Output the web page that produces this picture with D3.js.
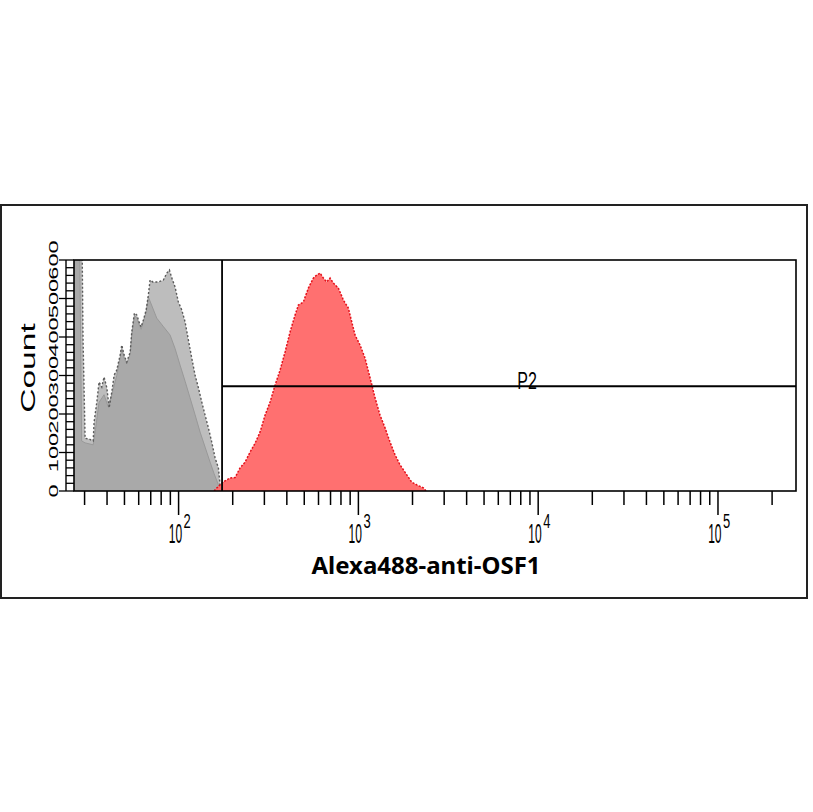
<!DOCTYPE html>
<html>
<head>
<meta charset="utf-8">
<script src="https://cdn.jsdelivr.net/npm/d3@7"></script>
<style>
  body { margin: 0; background: #fff; }
  svg { display: block; }
</style>
</head>
<body>
<div id="chart"></div>
<script>

// histogram data (fluorescence, count)
var grayOuterFl = [26.2, 28.9, 29.4, 30.2, 31.8, 33.5, 33.9, 35.1, 36.1, 37.4, 38.5, 39.9, 41.1, 42.5, 43.8, 45.3, 47.3, 48.3, 49.8, 51.5, 53.8, 54.9, 56.8, 58.6, 60.3, 61.9, 63.7, 66.0, 67.9, 69.4, 71.9, 74.0, 77.2, 82.3, 86.0, 88.9, 91.7, 95.6, 99.7, 104.2, 108.7, 113.4, 118.4, 123.5, 128.9, 134.6, 140.4, 146.5, 152.9, 159.6, 166.5, 170.1, 173.9, 176.5];
var grayOuterCount = [760, 760, 400, 137, 135, 130, 179, 231, 283, 270, 296, 268, 216, 257, 301, 314, 353, 379, 353, 335, 361, 413, 462, 457, 439, 426, 444, 470, 509, 548, 543, 543, 543, 548, 566, 574, 553, 530, 491, 470, 439, 392, 345, 301, 268, 231, 197, 164, 127, 86, 60, 16, 8, 0];

var grayInnerFl = [26.2, 28.0, 28.9, 30.2, 33.5, 34.5, 36.1, 38.5, 40.5, 42.5, 45.3, 47.3, 48.3, 49.8, 51.5, 53.8, 54.9, 56.8, 58.6, 60.3, 61.9, 63.7, 66.0, 67.9, 75.6, 82.0, 89.7, 95.6, 101.9, 108.7, 115.8, 123.5, 131.7, 140.4, 149.7, 157.6, 166.5, 172.5, 175];
var grayInnerCount = [760, 760, 130, 125, 120, 160, 230, 250, 220, 250, 300, 345, 370, 345, 330, 355, 405, 455, 450, 432, 420, 440, 465, 504, 449, 428, 405, 370, 327, 285, 242, 198, 153, 114, 75, 45, 16, 3, 0];

var redFl = [157.6, 163.1, 177.5, 193.4, 206.2, 219.8, 234.3, 249.8, 266.3, 283.9, 302.7, 322.7, 344.1, 366.8, 391.1, 416.9, 444.5, 463.7, 494.3, 527.0, 561.8, 586.8, 612.1, 638.6, 667.0, 695.8, 725.9, 773.9, 825.0, 879.5, 918.6, 958.3, 1021.6, 1089.1, 1161.1, 1237.8, 1319.6, 1406.7, 1499.7, 1598.7, 1704.4, 1857.7, 1980.5, 2111.2, 2298.0, 2348.5, 2380];
var redCount = [0, 8, 24, 34, 35, 60, 75, 101, 124, 153, 197, 231, 275, 314, 361, 413, 457, 483, 491, 527, 553, 561, 566, 553, 543, 553, 540, 527, 496, 475, 439, 405, 379, 345, 294, 242, 197, 164, 127, 94, 68, 42, 23, 16, 8, 3, 0];

// axis limits and gate
var xLimits = [26.2, 271600];
var yLimits = [0, 600];
var gateMin = 174.5;
var gateCount = 272;
var gateLabel = "P2";
var gateLabelFl = 8670;
var xTitle = "Alexa488-anti-OSF1";
var yTitle = "Count";

//Width and height
var w = 813;
var h = 812;
var plotLeft = 74;
var plotRight = 796;
var plotTop = 260;
var plotBottom = 491;

var svg = d3.select("#chart")
  .append("svg")
  .attr("width", w)
  .attr("height", h);

svg.append("rect")
  .attr("width", w)
  .attr("height", h)
  .attr("fill", "#fff");

//outer frame
svg.append("rect")
  .attr("x", 1)
  .attr("y", 205)
  .attr("width", 806)
  .attr("height", 393)
  .attr("fill", "none")
  .attr("stroke", "#222")
  .attr("stroke-width", 2);

var xScale = d3.scaleLog()
  .domain(xLimits)
  .range([plotLeft, plotRight]);

var yScale = d3.scaleLinear()
  .domain(yLimits)
  .range([plotBottom, plotTop]);

svg.append("clipPath")
  .attr("id", "plotclip")
  .append("rect")
  .attr("x", plotLeft)
  .attr("y", plotTop)
  .attr("width", plotRight - plotLeft)
  .attr("height", plotBottom - plotTop);

function pairs(xs, ys) {
  return xs.map(function(d, i) { return [d, ys[i]]; });
}

var area = d3.area()
  .x(function(d) { return xScale(d[0]); })
  .y0(yScale(0))
  .y1(function(d) { return yScale(d[1]); });

var line = d3.line()
  .x(function(d) { return xScale(d[0]); })
  .y(function(d) { return yScale(d[1]); });

var hist = svg.append("g").attr("clip-path", "url(#plotclip)");

var outer = pairs(grayOuterFl, grayOuterCount);
var inner = pairs(grayInnerFl, grayInnerCount);
var red = pairs(redFl, redCount);

hist.append("path").attr("d", area(outer)).attr("fill", "#bdbdbd");
hist.append("path").attr("d", area(inner)).attr("fill", "#a9a9a9");
hist.append("path").attr("d", line(inner))
  .attr("fill", "none").attr("stroke", "#999").attr("stroke-width", 1);
hist.append("path").attr("d", line(outer))
  .attr("fill", "none").attr("stroke", "#5a5a5a")
  .attr("stroke-width", 1.4).attr("stroke-dasharray", "2,2");

hist.append("path").attr("d", area(red)).attr("fill", "#ff6b6b").attr("fill-opacity", 0.97);
hist.append("path").attr("d", line(red))
  .attr("fill", "none").attr("stroke", "#e4101a")
  .attr("stroke-width", 1.5).attr("stroke-dasharray", "2,1.5");

//plot frame
svg.append("rect")
  .attr("x", plotLeft)
  .attr("y", plotTop)
  .attr("width", plotRight - plotLeft)
  .attr("height", plotBottom - plotTop)
  .attr("fill", "none")
  .attr("stroke", "#000")
  .attr("stroke-width", 1.6);

//gate P2
svg.append("line")
  .attr("x1", xScale(gateMin)).attr("x2", xScale(gateMin))
  .attr("y1", plotTop).attr("y2", plotBottom)
  .attr("stroke", "#000").attr("stroke-width", 1.8);
svg.append("line")
  .attr("x1", xScale(gateMin)).attr("x2", plotRight)
  .attr("y1", yScale(gateCount)).attr("y2", yScale(gateCount))
  .attr("stroke", "#000").attr("stroke-width", 2);
svg.append("text")
  .attr("transform", "translate(" + xScale(gateLabelFl) + "," + (yScale(gateCount) + 3) + ") scale(1,1.55)")
  .attr("text-anchor", "middle")
  .attr("font-family", "Liberation Sans, Arial, sans-serif")
  .attr("font-size", 16)
  .text(gateLabel);

//x ticks
var xTicks = xScale.ticks();
var isMajor = function(d) { return Math.abs(Math.log10(d) - Math.round(Math.log10(d))) < 1e-6; };

svg.selectAll("line.xtick")
  .data(xTicks)
  .enter()
  .append("line")
  .attr("class", "xtick")
  .attr("x1", function(d) { return xScale(d); })
  .attr("x2", function(d) { return xScale(d); })
  .attr("y1", plotBottom)
  .attr("y2", function(d) { return plotBottom + (isMajor(d) ? 24 : 14); })
  .attr("stroke", "#000")
  .attr("stroke-width", 1.5);

var majors = xTicks.filter(isMajor);
var xl = svg.selectAll("g.xlab")
  .data(majors)
  .enter()
  .append("g")
  .attr("class", "xlab")
  .attr("font-family", "Liberation Sans, Arial, sans-serif");
xl.append("text")
  .attr("transform", function(d) { return "translate(" + (xScale(d) + 3.5) + ",543) scale(1,2.25)"; })
  .attr("text-anchor", "end")
  .attr("font-size", 12)
  .text("10");
xl.append("text")
  .attr("transform", function(d) { return "translate(" + (xScale(d) + 5) + ",528) scale(1,1.5)"; })
  .attr("font-size", 13)
  .text(function(d) { return Math.round(Math.log10(d)); });

//y axis
var yAxisX = 66;
svg.append("line")
  .attr("x1", yAxisX).attr("x2", yAxisX)
  .attr("y1", plotTop).attr("y2", plotBottom)
  .attr("stroke", "#000").attr("stroke-width", 1.4);

var yMinor = yScale.ticks(30);
var yMajor = yScale.ticks(6);

svg.selectAll("line.ytick")
  .data(yMinor)
  .enter()
  .append("line")
  .attr("class", "ytick")
  .attr("x1", function(d) { return yMajor.indexOf(d) >= 0 ? 59 : yAxisX; })
  .attr("x2", plotLeft)
  .attr("y1", function(d) { return yScale(d); })
  .attr("y2", function(d) { return yScale(d); })
  .attr("stroke", "#000")
  .attr("stroke-width", 1.3);

svg.selectAll("text.ylab")
  .data(yMajor)
  .enter()
  .append("text")
  .attr("class", "ylab")
  .attr("transform", function(d) { return "translate(57.5," + yScale(d) + ") rotate(-90) scale(1.75,1)"; })
  .attr("text-anchor", "middle")
  .attr("font-family", "Liberation Sans, Arial, sans-serif")
  .attr("font-size", 13.5)
  .text(function(d) { return d; });

//axis titles
svg.append("text")
  .attr("transform", "translate(35,368) rotate(-90) scale(1.72,1)")
  .attr("text-anchor", "middle")
  .attr("font-family", "Liberation Sans, Arial, sans-serif")
  .attr("font-size", 19.5)
  .text(yTitle);

svg.append("text")
  .attr("x", 426)
  .attr("y", 574)
  .attr("text-anchor", "middle")
  .attr("font-family", "Noto Sans, sans-serif")
  .attr("font-weight", "bold")
  .attr("font-size", 24)
  .text(xTitle);

</script>
</body>
</html>
